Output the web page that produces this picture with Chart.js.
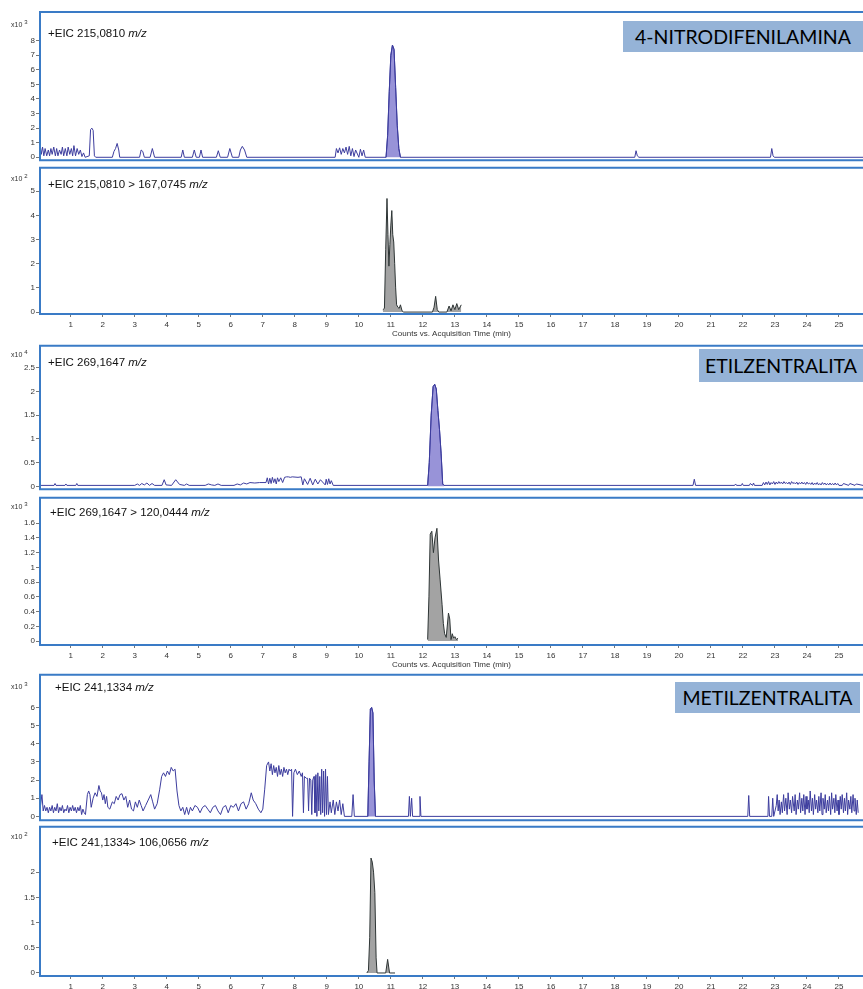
<!DOCTYPE html>
<html>
<head>
<meta charset="utf-8">
<script src="https://cdn.jsdelivr.net/npm/chart.js@4.4.0/dist/chart.umd.min.js"></script>
<style>
  html, body { margin: 0; padding: 0; background: #fff; overflow: hidden; }
  body { width: 863px; height: 989px; position: relative; }
  canvas { position: absolute; left: 0; }
  .eic { position: absolute; font-family: "Liberation Sans", Arial, sans-serif; font-size: 11.5px; line-height: 13px; color: #111; white-space: nowrap; }
  .mag { position: absolute; left: 11px; font-family: "Liberation Sans", Arial, sans-serif; font-size: 7px; color: #333; white-space: nowrap; }
  .mag sup { font-size: 6px; vertical-align: 3px; margin-left: 2px; }
  .cmp { position: absolute; background: #95b3d7; font-family: Lato, "Open Sans", sans-serif; font-size: 19.5px; color: #000; text-align: center; white-space: nowrap; }
</style>
</head>
<body>
<canvas id="p1" width="863" height="166" style="top:0px"></canvas>
<canvas id="p2" width="863" height="179" style="top:162px"></canvas>
<canvas id="p3" width="863" height="155" style="top:340px"></canvas>
<canvas id="p4" width="863" height="180" style="top:492px"></canvas>
<canvas id="p5" width="863" height="157" style="top:669px"></canvas>
<canvas id="p6" width="863" height="182" style="top:821px"></canvas>

<div class="mag" style="top:19px">x10<sup>3</sup></div>
<div class="mag" style="top:173px">x10<sup>2</sup></div>
<div class="mag" style="top:349px">x10<sup>4</sup></div>
<div class="mag" style="top:501px">x10<sup>3</sup></div>
<div class="mag" style="top:681px">x10<sup>3</sup></div>
<div class="mag" style="top:831px">x10<sup>2</sup></div>

<div class="eic" style="left:48px;top:27px">+EIC 215,0810 <i>m/z</i></div>
<div class="eic" style="left:48px;top:178px">+EIC 215,0810 &gt; 167,0745 <i>m/z</i></div>
<div class="eic" style="left:48px;top:356px">+EIC 269,1647 <i>m/z</i></div>
<div class="eic" style="left:50px;top:506px">+EIC 269,1647 &gt; 120,0444 <i>m/z</i></div>
<div class="eic" style="left:55px;top:681px">+EIC 241,1334 <i>m/z</i></div>
<div class="eic" style="left:52px;top:836px">+EIC 241,1334&gt; 106,0656 <i>m/z</i></div>

<div class="cmp" style="left:623px;top:21px;width:240px;height:31px;line-height:31px">4-NITRODIFENILAMINA</div>
<div class="cmp" style="left:699px;top:349px;width:164px;height:33px;line-height:33px">ETILZENTRALITA</div>
<div class="cmp" style="left:675px;top:682px;width:185px;height:31px;line-height:31px">METILZENTRALITA</div>

<script>
// x axis (acquisition time, min)
const xTicks = [1,2,3,4,5,6,7,8,9,10,11,12,13,14,15,16,17,18,19,20,21,22,23,24,25];
const xTitle = 'Counts vs. Acquisition Time (min)';

// y tick labels per panel
const yTicks1 = [0,1,2,3,4,5,6,7,8];
const yTicks2 = [0,1,2,3,4,5];
const yTicks3 = [0,0.5,1,1.5,2,2.5];
const yTicks4 = [0,0.2,0.4,0.6,0.8,1,1.2,1.4,1.6];
const yTicks5 = [0,1,2,3,4,5,6];
const yTicks6 = [0,0.5,1,1.5,2];

// 4-nitrodifenilamina, EIC 215,0810 (x10^3)
const nitroT = [0.05,0.08,0.12,0.16,0.2,0.25,0.3,0.34,0.38,0.42,0.47,0.52,0.56,0.6,0.65,0.7,0.74,0.78,0.83,0.88,0.92,0.97,1.02,1.06,1.1,1.15,1.2,1.25,1.3,1.35,1.4,1.45,
  1.58,1.62,1.66,1.7,1.74,1.78,2.3,2.35,2.4,2.45,2.5,2.53,3.15,3.2,3.25,3.3,3.48,3.55,3.62,4.45,4.5,4.55,4.8,4.86,4.92,5.02,5.07,5.12,5.55,5.61,5.67,5.9,5.97,6.05,6.25,6.3,6.36,6.43,6.5,
  9.26,9.3,9.35,9.4,9.45,9.5,9.55,9.6,9.65,9.7,9.75,9.8,9.85,9.9,10.0,10.05,10.1,10.15,10.2,
  10.85,10.9,10.95,11.0,11.05,11.1,11.15,11.2,11.25,11.3,
  18.62,18.66,18.7,18.75,22.86,22.9,22.94,22.98,25.75];
const nitroV = [0.8,0.2,0.7,0.1,0.6,0.1,0.5,0.1,0.6,0.2,0.7,0.1,0.6,0.1,0.5,0.2,0.7,0.1,0.6,0.1,0.7,0.2,0.6,0.1,0.8,0.1,0.6,0.2,0.5,0.05,0.3,0,
  0.1,1.9,2.0,1.85,0.1,0,0,0.4,0.6,0.95,0.5,0,0,0.5,0.4,0,0,0.6,0,0,0.5,0,0,0.5,0,0,0.5,0,0,0.45,0,0,0.6,0,0,0.5,0.75,0.5,0,
  0,0.6,0.3,0.65,0.2,0.6,0.3,0.7,0.2,0.75,0.1,0.6,0.05,0.5,0,0.55,0.1,0.5,0,
  0,1.5,4.5,7.0,7.7,7.4,4.8,2.2,0.6,0,
  0,0.45,0.1,0,0,0.6,0.1,0,0];
const nitroPeakT = [10.85,10.9,10.95,11.0,11.05,11.1,11.15,11.2,11.25,11.3];
const nitroPeakV = [0,1.5,4.5,7.0,7.7,7.4,4.8,2.2,0.6,0];

// EIC 215,0810 > 167,0745 (x10^2)
const nitroMsT = [10.75,10.8,10.84,10.88,10.91,10.94,10.97,11.0,11.03,11.06,11.09,11.12,11.15,11.18,11.22,11.26,11.3,11.35,11.4,12.3,12.35,12.4,12.45,12.5,12.75,12.82,12.88,12.94,13.0,13.06,13.12,13.2];
const nitroMsV = [0.1,0.15,2.6,4.7,3.2,1.9,2.8,3.6,4.2,3.2,2.9,2.0,1.0,0.3,0.2,0.15,0.3,0.05,0,0,0.2,0.65,0.1,0,0,0.25,0.05,0.3,0.1,0.35,0.1,0.3];

// Etilzentralita, EIC 269,1647 (x10^4)
const etilT = [0.04,0.48,0.51,0.54,0.82,0.85,0.88,1.16,1.19,1.22,3.0,3.08,3.15,3.22,3.3,3.38,3.46,3.54,3.62,3.85,3.92,3.98,4.15,4.28,4.4,4.55,4.62,4.7,5.2,5.3,5.4,5.5,5.6,5.7,6.1,6.2,6.3,6.4,6.5,6.6,6.75,6.9,
  7.1,7.14,7.18,7.22,7.26,7.3,7.34,7.38,7.42,7.46,7.5,7.56,7.62,7.68,7.74,7.8,7.86,7.92,8.1,8.2,8.25,8.3,8.4,8.48,8.56,8.64,8.72,8.8,8.95,8.98,9.02,9.06,9.1,9.14,9.2,
  12.15,12.2,12.26,12.32,12.37,12.42,12.47,12.52,12.57,12.62,12.66,
  20.44,20.48,20.52,21.74,21.77,21.8,21.95,21.98,22.01,22.2,22.23,22.3,22.33,22.36,22.6,22.64,22.68,22.72,22.76,22.8,22.84,22.88,22.92,22.96,23.0,23.04,23.08,23.12,23.16,23.2,23.24,23.28,23.32,23.36,23.4,23.44,23.48,23.52,23.56,23.6,23.64,23.68,23.72,23.76,23.8,23.84,23.88,23.92,23.96,24.0,24.04,24.08,24.12,24.16,24.2,24.24,24.28,24.32,24.36,24.4,24.44,24.48,24.52,24.56,24.6,24.64,24.68,24.72,24.76,24.8,24.84,24.88,24.92,24.96,25.0,25.1,25.14,25.3,25.34,25.5,25.54,25.75];
const etilV = [0.02,0.02,0.06,0.02,0.02,0.05,0.02,0.02,0.06,0.02,0.02,0.05,0.02,0.06,0.03,0.07,0.02,0.06,0.02,0.02,0.14,0.03,0.02,0.14,0.04,0.02,0.05,0.02,0.02,0.05,0.03,0.02,0.05,0.02,0.02,0.05,0.03,0.07,0.05,0.08,0.07,0.08,
  0.08,0.18,0.05,0.17,0.06,0.19,0.08,0.16,0.05,0.18,0.1,0.18,0.08,0.19,0.2,0.2,0.19,0.2,0.19,0.2,0.03,0.16,0.04,0.17,0.03,0.15,0.05,0.14,0.03,0.15,0.04,0.16,0.05,0.12,0.02,
  0.02,0.5,1.5,2.1,2.15,2.05,1.6,1.2,0.7,0.05,0.02,
  0.02,0.15,0.02,0.02,0.05,0.02,0.02,0.06,0.02,0.02,0.06,0.02,0.07,0.02,0.02,0.08,0.03,0.09,0.04,0.1,0.03,0.08,0.05,0.1,0.04,0.09,0.05,0.1,0.06,0.09,0.05,0.1,0.06,0.08,0.05,0.09,0.04,0.1,0.06,0.08,0.05,0.09,0.04,0.08,0.05,0.09,0.05,0.08,0.04,0.09,0.05,0.07,0.04,0.08,0.03,0.07,0.04,0.08,0.03,0.06,0.03,0.08,0.04,0.07,0.03,0.06,0.03,0.07,0.03,0.06,0.03,0.07,0.03,0.06,0.02,0.02,0.06,0.02,0.06,0.02,0.05,0.02];
const etilPeakT = [12.15,12.2,12.26,12.32,12.37,12.42,12.47,12.52,12.57,12.62,12.66];
const etilPeakV = [0.02,0.5,1.5,2.1,2.15,2.05,1.6,1.2,0.7,0.05,0.02];

// EIC 269,1647 > 120,0444 (x10^3)
const etilMsT = [12.15,12.19,12.23,12.28,12.33,12.38,12.44,12.49,12.54,12.6,12.64,12.68,12.73,12.8,12.84,12.88,12.92,12.96,13.0,13.05,13.1];
const etilMsV = [0.02,0.6,1.45,1.49,1.2,1.4,1.53,1.1,0.83,0.5,0.24,0.1,0.05,0.38,0.3,0.02,0.1,0.04,0.06,0.02,0.04];

// Metilzentralita, EIC 241,1334 (x10^3)
const metilT = [0.05,0.1,0.14,0.18,0.22,0.26,0.3,0.34,0.38,0.42,0.46,0.5,0.54,0.58,0.62,0.66,0.7,0.74,0.78,0.82,0.86,0.9,0.94,0.98,1.02,1.06,1.1,1.14,1.18,1.22,1.26,1.3,1.34,1.38,1.42,1.46,
  1.52,1.56,1.6,1.64,1.7,1.76,1.82,1.88,1.92,1.96,2.0,2.04,2.08,2.12,2.16,2.22,2.3,2.36,2.42,2.48,2.54,2.6,2.66,2.72,2.78,2.84,2.9,2.96,3.02,3.08,3.14,3.2,3.26,3.34,3.42,3.5,3.56,3.62,3.7,
  3.78,3.84,3.9,3.96,4.02,4.08,4.14,4.2,4.26,4.32,4.38,4.44,4.5,4.56,4.62,4.68,4.74,4.8,4.88,4.96,5.04,5.12,5.2,5.28,5.36,5.44,5.52,5.6,5.68,5.76,5.84,5.92,6.0,6.08,6.16,6.24,6.32,6.4,6.48,6.56,6.64,6.7,6.78,6.86,6.94,7.0,
  7.06,7.12,7.18,7.22,7.26,7.3,7.34,7.38,7.42,7.46,7.5,7.54,7.58,7.62,7.66,7.7,7.74,7.78,7.82,7.86,7.9,7.93,7.97,8.02,8.08,8.14,8.2,8.24,8.27,8.3,8.36,8.4,8.43,8.46,8.5,8.53,8.56,8.6,8.63,8.66,8.69,8.72,8.75,8.78,8.81,8.84,8.87,8.9,8.93,8.96,8.99,9.02,9.05,
  9.1,9.14,9.2,9.25,9.3,9.35,9.4,9.45,9.5,9.55,9.78,9.82,9.86,
  10.28,10.32,10.36,10.4,10.44,10.48,10.52,
  11.55,11.58,11.61,11.65,11.68,11.88,11.91,11.94,
  22.15,22.18,22.21,22.78,22.8,22.83,22.9,22.93,22.96,23.04,23.07,23.1,23.13,23.16,23.2,23.23,23.27,23.3,23.34,23.38,23.41,23.45,23.48,23.52,23.55,23.6,23.63,23.66,23.7,23.73,23.77,23.8,23.84,23.87,23.9,23.94,23.97,24.0,24.04,24.07,24.1,24.14,24.17,24.2,24.24,24.27,24.3,24.34,24.37,24.4,24.44,24.47,24.5,24.54,24.57,24.6,24.64,24.67,24.7,24.74,24.77,24.8,24.84,24.87,24.9,24.94,24.97,25.0,25.04,25.07,25.1,25.14,25.17,25.2,25.24,25.27,25.3,25.34,25.37,25.4,25.44,25.47,25.5,25.54,25.57,25.6,25.64,25.67,25.7,25.75];
const metilV = [0.5,1.2,0.3,0.6,0.3,0.5,0.2,0.5,0.3,0.6,0.2,0.5,0.3,0.7,0.2,0.5,0.3,0.6,0.2,0.4,0.3,0.6,0.2,0.5,0.3,0.6,0.3,0.5,0.2,0.5,0.3,0.6,0.1,0.4,0.2,0.1,
  1.2,1.4,1.2,0.5,1.0,1.3,1.1,1.7,1.4,1.3,0.9,1.2,0.7,1.1,0.5,0.4,0.8,0.7,1.1,0.9,1.2,1.25,0.9,1.1,0.5,0.9,0.4,0.3,0.8,0.5,0.9,0.6,0.3,0.6,0.9,1.2,0.8,0.4,0.7,
  1.5,2.2,2.4,2.2,2.5,2.3,2.7,2.5,2.6,1.4,0.6,0.3,0.5,0.1,0.5,0.1,0.5,0.3,0.6,0.5,0.2,0.5,0.6,0.4,0.2,0.5,0.6,0.3,0.1,0.5,0.6,0.2,0.6,0.5,0.7,0.3,0.7,0.8,0.4,0.7,1.3,0.9,0.7,0.4,0.2,0.4,
  1.5,2.8,3.0,2.5,2.9,2.3,2.8,2.4,2.7,2.2,2.8,2.3,2.6,2.2,2.7,2.4,2.6,2.3,2.6,2.5,2.6,0,2.4,2.6,2.3,2.5,2.2,2.4,0.2,2.2,2.1,2.1,0.3,2.1,2.0,0.1,2.0,2.2,0.2,2.3,0,2.4,0.3,2.2,0.1,2.6,0.2,2.5,0,2.6,0.1,2.2,0.1,
  0.8,0.2,0.9,0.1,0.8,0.3,0.9,0.1,0.7,0,0,1.2,0,
  0,3.0,5.9,6.0,5.7,2.0,0,
  0,1.1,0,1.0,0,0,1.1,0,
  0,1.15,0,0,1.1,0,0,1.0,0,0.6,1.2,0.3,0.9,0.1,0.8,0.2,1.2,0.3,1.0,0.1,1.3,0.4,0.9,0.2,1.1,0.3,1.2,0.1,0.9,0.4,1.3,0.2,1.0,0.3,1.2,0.1,1.1,0.4,0.9,0.2,1.4,0.3,1.0,0.1,1.2,0.4,0.9,0.2,1.1,0.3,1.3,0.1,1.0,0.4,1.2,0.2,0.9,0.3,1.1,0.1,1.3,0.4,1.0,0.2,1.2,0.3,0.9,0.1,1.1,0.4,1.2,0.2,1.0,0.3,1.3,0.1,0.9,0.4,1.1,0.2,1.2,0.3,1.0,0.1,0.9,0.2];
const metilPeakT = [10.28,10.32,10.36,10.4,10.44,10.48,10.52];
const metilPeakV = [0,3.0,5.9,6.0,5.7,2.0,0];

// EIC 241,1334 > 106,0656 (x10^2)
const metilMsT = [10.25,10.3,10.34,10.38,10.42,10.46,10.5,10.54,10.57,10.84,10.9,10.96,11.13];
const metilMsV = [0,0.05,0.7,2.28,2.2,2.0,1.6,0.3,0,0,0.27,0,0];

const BLUE_LINE = '#3d3d9e';
const BLUE_FILL = '#9893d8';
const GREY_LINE = '#2e3535';
const GREY_FILL = '#a3a3a3';

const pts = (t, v) => t.map((x, i) => ({ x: x, y: v[i] }));

const framePlugin = {
  id: 'frame',
  afterDraw(chart) {
    const { ctx, chartArea: a } = chart;
    ctx.save();
    ctx.strokeStyle = '#3a7bc6';
    ctx.lineWidth = 2;
    ctx.beginPath();
    ctx.moveTo(chart.width, a.top);
    ctx.lineTo(a.left, a.top);
    ctx.lineTo(a.left, a.bottom);
    ctx.lineTo(chart.width, a.bottom);
    ctx.stroke();
    ctx.restore();
  }
};

function trace(t, v, color, fillColor) {
  return {
    data: pts(t, v),
    borderColor: color,
    backgroundColor: fillColor || 'transparent',
    borderWidth: 1,
    pointRadius: 0,
    tension: 0,
    fill: fillColor ? 'origin' : false
  };
}

function panel(id, datasets, yMin, yMax, yTicks, padTop, padBottom, showX) {
  return new Chart(document.getElementById(id), {
    type: 'line',
    data: { datasets: datasets },
    options: {
      responsive: false,
      animation: false,
      layout: { padding: { top: padTop, bottom: padBottom, left: 0, right: 0 } },
      plugins: { legend: { display: false }, tooltip: { enabled: false } },
      scales: {
        x: {
          type: 'linear',
          min: 0.04,
          max: 25.75,
          display: showX,
          afterBuildTicks: s => { s.ticks = xTicks.map(v => ({ value: v })); },
          afterFit: s => { s.height = showX ? 27 : 0; },
          grid: { drawOnChartArea: false, tickLength: 3, color: '#777' },
          border: { display: false },
          ticks: { autoSkip: false, maxRotation: 0, padding: 3, color: '#333', font: { family: 'Liberation Sans', size: 8 } },
          title: { display: true, text: xTitle, color: '#333', padding: { top: 0, bottom: 2 }, font: { family: 'Liberation Sans', size: 8 } }
        },
        y: {
          min: yMin,
          max: yMax,
          afterBuildTicks: s => { s.ticks = yTicks.map(v => ({ value: v })); },
          afterFit: s => { s.width = 40; },
          grid: { drawOnChartArea: false, tickLength: 4, color: '#777' },
          border: { display: false },
          ticks: { autoSkip: false, padding: 1, color: '#333', font: { family: 'Liberation Sans', size: 8 }, callback: v => String(v) }
        }
      }
    },
    plugins: [framePlugin]
  });
}

panel('p1', [trace(nitroT, nitroV, BLUE_LINE), trace(nitroPeakT, nitroPeakV, BLUE_LINE, BLUE_FILL)], -0.2, 9.97, yTicks1, 12, 4, false);
panel('p2', [trace(nitroMsT, nitroMsV, GREY_LINE, GREY_FILL)], -0.08, 5.97, yTicks2, 3, 0, true);
panel('p3', [trace(etilT, etilV, BLUE_LINE), trace(etilPeakT, etilPeakV, BLUE_LINE, BLUE_FILL)], -0.06, 2.96, yTicks3, 2, 3, false);
panel('p4', [trace(etilMsT, etilMsV, GREY_LINE, GREY_FILL)], -0.053, 1.944, yTicks4, 2, 0, true);
panel('p5', [trace(metilT, metilV, BLUE_LINE), trace(metilPeakT, metilPeakV, BLUE_LINE, BLUE_FILL)], -0.21, 7.8, yTicks5, 3, 3, false);
panel('p6', [trace(metilMsT, metilMsV, GREY_LINE, GREY_FILL)], -0.06, 2.9, yTicks6, 3, 0, true);
</script>
</body>
</html>
